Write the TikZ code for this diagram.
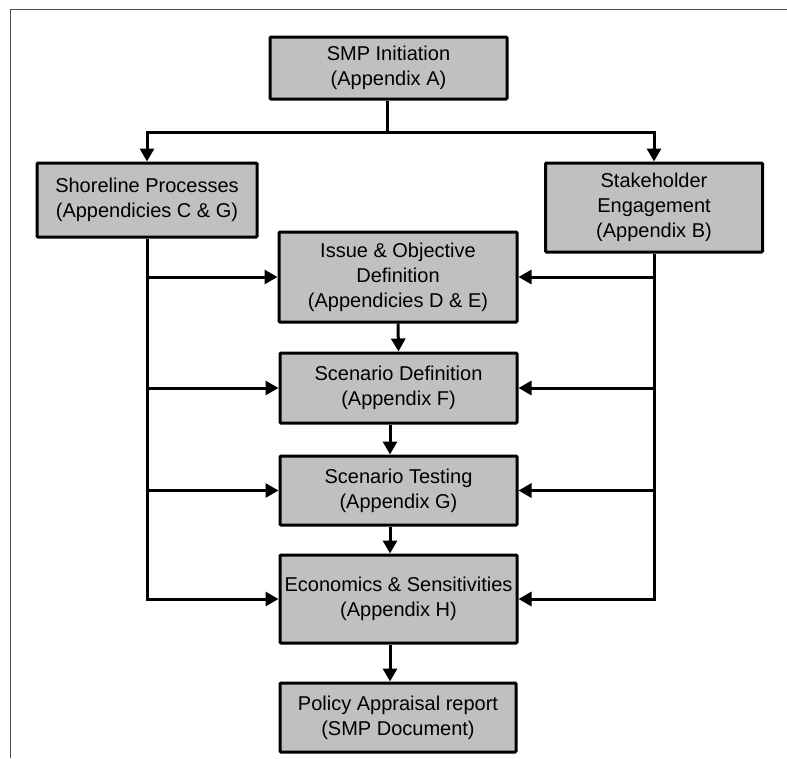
\documentclass[tikz,border=0pt]{standalone}
\usepackage{fontspec}
\setmainfont{Liberation Sans}
\usetikzlibrary{arrows.meta}
\definecolor{boxfill}{RGB}{192,192,192}
\definecolor{framecol}{RGB}{80,80,80}
\begin{document}
\begin{tikzpicture}[x=1pt,y=-1pt,
  box/.style={draw=black, line width=3pt, fill=boxfill, rounded corners=1pt,
    align=center, inner sep=0pt, text=black,
    font=\fontsize{20}{25}\selectfont},
  conn/.style={line width=3pt, draw=black},
  arr/.style={conn, -{Triangle[length=13pt,width=14pt]}}]
\useasboundingbox (0,0) rectangle (787,758);
% frame
\draw[framecol, line width=1pt] (10,758) -- (10,9) -- (787,9);
% boxes
\node[box, minimum width=237pt, minimum height=62pt] (smp) at (388.5,68) {SMP Initiation\\(Appendix A)};
\node[box, minimum width=220pt, minimum height=74pt] (shore) at (147,200) {Shoreline Processes\\(Appendicies C \& G)};
\node[box, minimum width=217pt, minimum height=89pt] (stake) at (654,207.5) {Stakeholder\\Engagement\\(Appendix B)};
\node[box, minimum width=238pt, minimum height=90pt] (issue) at (398,277) {Issue \& Objective\\Definition\\(Appendicies D \& E)};
\node[box, minimum width=237pt, minimum height=70pt] (sdef) at (398.5,388) {Scenario Definition\\(Appendix F)};
\node[box, minimum width=237pt, minimum height=69pt] (stest) at (398.5,490.5) {Scenario Testing\\(Appendix G)};
\node[box, minimum width=237pt, minimum height=88pt] (econ) at (398.5,599) {Economics \& Sensitivities\\(Appendix H)};
\node[box, minimum width=236pt, minimum height=69pt] (policy) at (398,717.5) {Policy Appraisal report\\(SMP Document)};
% top split
\coordinate (j) at (387,132);
\draw[conn] ([xshift=-1.5pt]smp.south) -- (j);
\draw[arr] (j) -| (shore.north);
\draw[arr] (j) -| (stake.north);
% left bus
\draw[arr] (shore.south) |- (econ.west);
\draw[arr] (shore.south |- issue.west) -- (issue.west);
\draw[arr] (shore.south |- sdef.west) -- (sdef.west);
\draw[arr] (shore.south |- stest.west) -- (stest.west);
% right bus
\draw[arr] (stake.south) |- (econ.east);
\draw[arr] (stake.south |- issue.east) -- (issue.east);
\draw[arr] (stake.south |- sdef.east) -- (sdef.east);
\draw[arr] (stake.south |- stest.east) -- (stest.east);
% main chain
\draw[arr] (issue.south) -- (sdef.north);
\draw[arr] ([xshift=-8.5pt]sdef.south) -- ([xshift=-8.5pt]stest.north);
\draw[arr] ([xshift=-8.5pt]stest.south) -- ([xshift=-8.5pt]econ.north);
\draw[arr] ([xshift=-8.5pt]econ.south) -- ([xshift=-8pt]policy.north);
\end{tikzpicture}
\end{document}
